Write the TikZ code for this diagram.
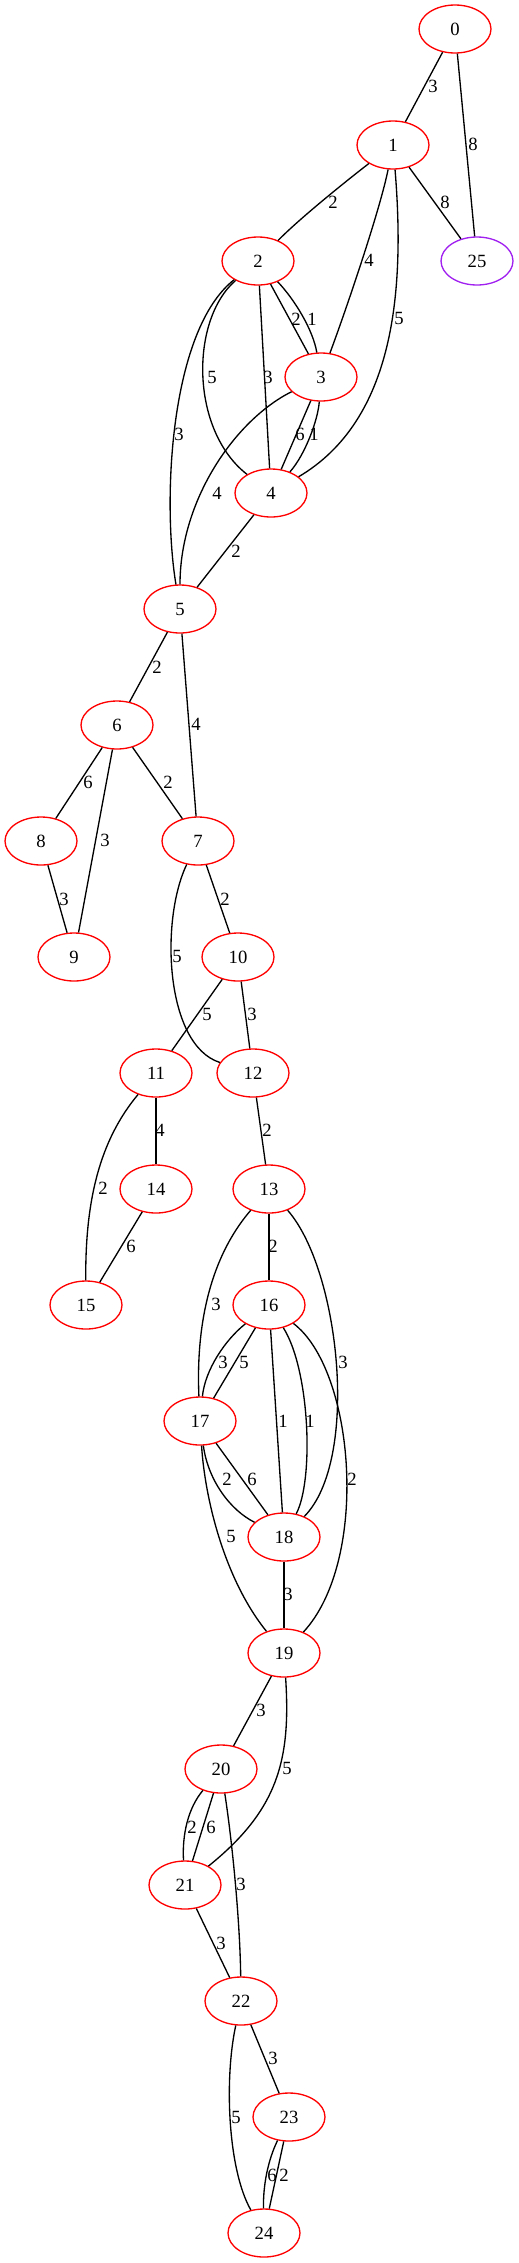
\documentclass[tikz,border=0pt]{standalone}
\usepackage{fontspec}
\setmainfont{Liberation Serif}
\usetikzlibrary{shapes.geometric}
\definecolor{gvred}{HTML}{FF0000}
\definecolor{gvpurple}{HTML}{A020F0}
\tikzset{
  vert/.style={ellipse, draw=gvred, line width=1.33pt, minimum width=72pt, minimum height=48pt, inner sep=1pt, font=\fontsize{18.67}{22}\selectfont},
  vertp/.style={vert, draw=gvpurple},
  wt/.style={inner sep=0pt, font=\fontsize{18.67}{22}\selectfont},
  edge/.style={draw=black, line width=1.33pt}
}
\begin{document}
\begin{tikzpicture}[x=1pt, y=-1pt]
\useasboundingbox (0,0) rectangle (519,2263);
% nodes
\node[vert] (n0) at (455,29) {0};
\node[vert] (n1) at (393,145) {1};
\node[vert] (n2) at (258,261) {2};
\node[vertp] (n25) at (477,261) {25};
\node[vert] (n3) at (321,377) {3};
\node[vert] (n4) at (271,493) {4};
\node[vert] (n5) at (180,609) {5};
\node[vert] (n6) at (117,725) {6};
\node[vert] (n8) at (41,841) {8};
\node[vert] (n7) at (198,841) {7};
\node[vert] (n9) at (74,957) {9};
\node[vert] (n10) at (238,957) {10};
\node[vert] (n11) at (156,1073) {11};
\node[vert] (n12) at (253,1073) {12};
\node[vert] (n14) at (156,1189) {14};
\node[vert] (n13) at (269,1189) {13};
\node[vert] (n15) at (86,1305) {15};
\node[vert] (n16) at (269,1305) {16};
\node[vert] (n17) at (200,1421) {17};
\node[vert] (n18) at (284,1537) {18};
\node[vert] (n19) at (284,1653) {19};
\node[vert] (n20) at (221,1769) {20};
\node[vert] (n21) at (185,1885) {21};
\node[vert] (n22) at (241,2001) {22};
\node[vert] (n23) at (289,2117) {23};
\node[vert] (n24) at (264,2233) {24};
% edges
\draw[edge] (n0) -- (n1);
\draw[edge] (n0) -- (n25);
\draw[edge] (n1) .. controls (350,178) and (300,218) .. (n2);
\draw[edge] (n1) .. controls (380,210) and (346,310) .. (n3);
\draw[edge] (n1) .. controls (405,290) and (395,420) .. (n4);
\draw[edge] (n1) -- (n25);
\draw[edge] (n2) -- (n3);
\draw[edge] (n2) .. controls (295,300) and (313,330) .. (n3);
\draw[edge] (n2) .. controls (190,320) and (190,430) .. (n4);
\draw[edge] (n2) -- (n4);
\draw[edge] (n2) .. controls (170,330) and (162,500) .. (n5);
\draw[edge] (n3) -- (n4);
\draw[edge] (n3) .. controls (318,420) and (305,455) .. (n4);
\draw[edge] (n3) .. controls (235,420) and (180,500) .. (n5);
\draw[edge] (n4) -- (n5);
\draw[edge] (n5) -- (n6);
\draw[edge] (n5) -- (n7);
\draw[edge] (n6) -- (n8);
\draw[edge] (n6) -- (n9);
\draw[edge] (n6) -- (n7);
\draw[edge] (n8) -- (n9);
\draw[edge] (n7) -- (n10);
\draw[edge] (n7) .. controls (160,920) and (165,1045) .. (n12);
\draw[edge] (n10) -- (n11);
\draw[edge] (n10) -- (n12);
\draw[edge] (n11) -- (n14);
\draw[edge] (n11) .. controls (100,1140) and (85,1200) .. (n15);
\draw[edge] (n14) -- (n15);
\draw[edge] (n12) -- (n13);
\draw[edge] (n13) -- (n16);
\draw[edge] (n13) .. controls (208,1260) and (196,1330) .. (n17);
\draw[edge] (n13) .. controls (340,1270) and (360,1460) .. (n18);
\draw[edge] (n16) .. controls (225,1340) and (205,1370) .. (n17);
\draw[edge] (n16) -- (n17);
\draw[edge] (n16) -- (n18);
\draw[edge] (n16) .. controls (310,1370) and (314,1480) .. (n18);
\draw[edge] (n16) .. controls (355,1370) and (370,1560) .. (n19);
\draw[edge] (n17) .. controls (208,1480) and (230,1510) .. (n18);
\draw[edge] (n17) -- (n18);
\draw[edge] (n17) .. controls (205,1500) and (225,1580) .. (n19);
\draw[edge] (n18) -- (n19);
\draw[edge] (n19) -- (n20);
\draw[edge] (n19) .. controls (291,1760) and (278,1810) .. (n21);
\draw[edge] (n20) .. controls (188,1808) and (182,1835) .. (n21);
\draw[edge] (n20) -- (n21);
\draw[edge] (n20) .. controls (232,1840) and (240,1920) .. (n22);
\draw[edge] (n21) -- (n22);
\draw[edge] (n22) -- (n23);
\draw[edge] (n22) .. controls (224,2080) and (228,2170) .. (n24);
\draw[edge] (n23) .. controls (268,2160) and (263,2185) .. (n24);
\draw[edge] (n23) -- (n24);
% weights
\node[wt] (w0a) at (433,86) {3};
\node[wt] (w0b) at (473,144) {8};
\node[wt] (w1a) at (333,202) {2};
\node[wt] (w1b) at (445,202) {8};
\node[wt] (w1c) at (369,260) {4};
\node[wt] (w1d) at (399,318) {5};
\node[wt] (w2a) at (296,319) {2};
\node[wt] (w2b) at (312,319) {1};
\node[wt] (w2c) at (212,377) {5};
\node[wt] (w2d) at (268,377) {3};
\node[wt] (w2e) at (179,434) {3};
\node[wt] (w3a) at (300,434) {6};
\node[wt] (w3b) at (314,434) {1};
\node[wt] (w3c) at (217,493) {4};
\node[wt] (w4a) at (236,551) {2};
\node[wt] (w5a) at (157,667) {2};
\node[wt] (w5b) at (196,724) {4};
\node[wt] (w6a) at (88,782) {6};
\node[wt] (w6b) at (168,782) {2};
\node[wt] (w6c) at (105,840) {3};
\node[wt] (w8a) at (64,899) {3};
\node[wt] (w7a) at (225,899) {2};
\node[wt] (w7b) at (177,956) {5};
\node[wt] (w10a) at (207,1014) {5};
\node[wt] (w10b) at (252,1014) {3};
\node[wt] (w11a) at (160,1130) {4};
\node[wt] (w12a) at (267,1130) {2};
\node[wt] (w11b) at (103,1188) {2};
\node[wt] (w14a) at (131,1246) {6};
\node[wt] (w13a) at (273,1246) {2};
\node[wt] (w13b) at (216,1304) {3};
\node[wt] (w16a) at (223,1362) {3};
\node[wt] (w16b) at (244,1362) {5};
\node[wt] (w13c) at (343,1362) {3};
\node[wt] (w16c) at (283,1421) {1};
\node[wt] (w16d) at (310,1421) {1};
\node[wt] (w17a) at (227,1479) {2};
\node[wt] (w17b) at (252,1479) {6};
\node[wt] (w16e) at (352,1479) {2};
\node[wt] (w17c) at (231,1536) {5};
\node[wt] (w18a) at (288,1594) {3};
\node[wt] (w19a) at (261,1710) {3};
\node[wt] (w19b) at (287,1768) {5};
\node[wt] (w20a) at (192,1827) {2};
\node[wt] (w20b) at (211,1827) {6};
\node[wt] (w20c) at (241,1884) {3};
\node[wt] (w21a) at (221,1943) {3};
\node[wt] (w22a) at (273,2058) {3};
\node[wt] (w22b) at (236,2117) {5};
\node[wt] (w23a) at (272,2175) {6};
\node[wt] (w23b) at (284,2175) {2};
\end{tikzpicture}
\end{document}
